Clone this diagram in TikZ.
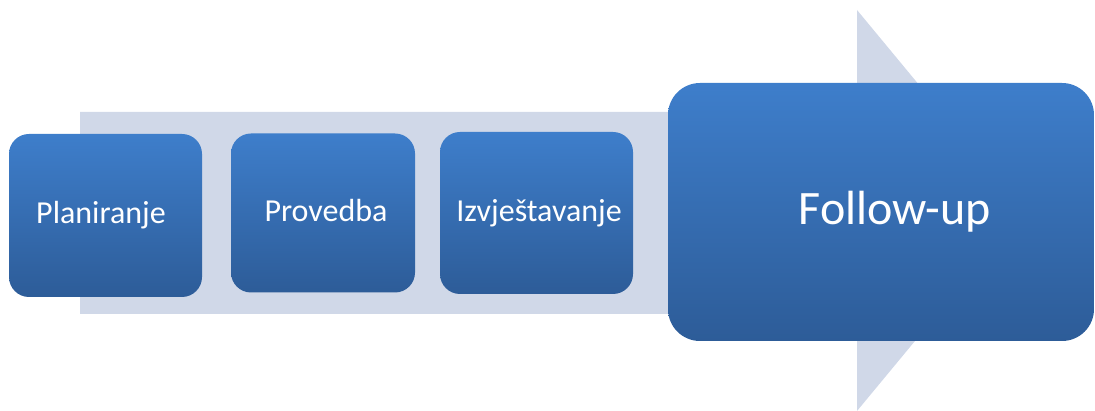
\documentclass[tikz,border=0pt]{standalone}
\usepackage{fontspec}
\setmainfont{Carlito}
\definecolor{bgarrow}{RGB}{208,216,232}
\definecolor{boxtop}{RGB}{62,126,203}
\definecolor{boxbot}{RGB}{45,92,152}
\tikzset{
  stepbox/.style={rounded corners=#1, top color=boxtop, bottom color=boxbot,
    inner sep=0pt, outer sep=0pt},
  stepbox/.default=20pt,
  steplabel/.style={text=white, inner sep=0pt, font=\fontsize{32}{38}\selectfont}
}
\begin{document}
\begin{tikzpicture}[x=1pt,y=-1pt]
\useasboundingbox (0,0) rectangle (1095,411);
% background arrow
\fill[bgarrow] (80,112) -- (857,112) -- (857,10) -- (1023,210.5) -- (857,411) -- (857,314) -- (80,314) -- cycle;
% boxes
\node[stepbox, minimum width=193pt, minimum height=163pt] (plan) at (105.5,215.5) {};
\node[steplabel] (planlbl) at (101,215) {Planiranje};
\node[stepbox, minimum width=184pt, minimum height=159pt] (prov) at (323,213) {};
\node[steplabel] (provlbl) at (326,211) {Provedba};
\node[stepbox, minimum width=193pt, minimum height=162pt] (izv) at (536.5,213) {};
\node[steplabel] (izvlbl) at (539,213) {Izvještavanje};
\node[stepbox=32pt, minimum width=426pt, minimum height=258pt] (fu) at (881,212) {};
\node[steplabel, font=\fontsize{48}{56}\selectfont] (fulbl) at (895,212) {Follow-up};
\end{tikzpicture}
\end{document}
